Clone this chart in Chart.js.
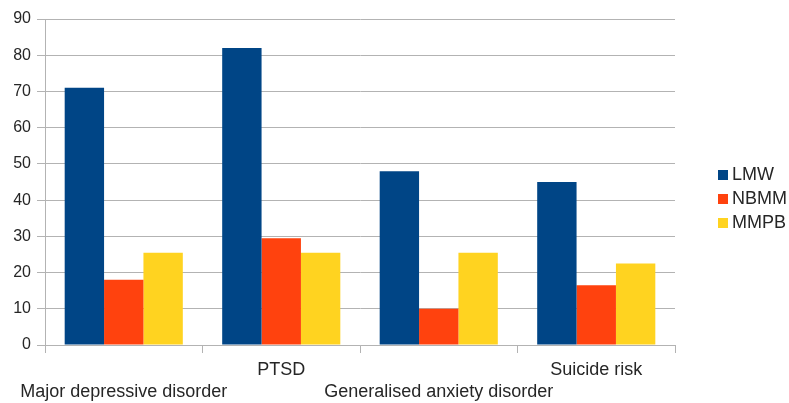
<!DOCTYPE html>
<html>
<head>
<meta charset="utf-8">
<script src="https://cdn.jsdelivr.net/npm/chart.js@4/dist/chart.umd.min.js"></script>
<style>
  html, body { margin: 0; padding: 0; background: #ffffff; }
  #wrap { position: relative; width: 789px; height: 403px; }
</style>
</head>
<body>
<div id="wrap"><canvas id="c"></canvas></div>
<script>
// Categories and series
const categories = ['Major depressive disorder', 'PTSD', 'Generalised anxiety disorder', 'Suicide risk'];
const lmw  = [71, 82, 48, 45];
const nbmm = [18, 29.5, 10, 16.5];
const mmpb = [25.5, 25.5, 25.5, 22.5];
const seriesNames = ['LMW', 'NBMM', 'MMPB'];
const seriesColors = ['#004586', '#ff420e', '#ffd320'];
const yTicks = [0, 10, 20, 30, 40, 50, 60, 70, 80, 90];

const FONT = "'Liberation Sans', Arial, sans-serif";
const TEXT = '#262626';
const GRID = '#b3b3b3';

// Legend drawn at the right, squares + names
const sideLegend = {
  id: 'sideLegend',
  afterDraw(chart) {
    const ctx = chart.ctx;
    ctx.save();
    ctx.font = '18px ' + FONT;
    ctx.textBaseline = 'middle';
    ctx.textAlign = 'left';
    chart.data.datasets.forEach((ds, i) => {
      const y = 175 + i * 24;
      ctx.fillStyle = ds.backgroundColor;
      ctx.fillRect(718, y - 5, 10, 10);
      ctx.fillStyle = TEXT;
      ctx.fillText(ds.label, 732, y);
    });
    ctx.restore();
  }
};

new Chart(document.getElementById('c'), {
  type: 'bar',
  data: {
    labels: categories,
    datasets: [
      { label: seriesNames[0], data: lmw,  backgroundColor: seriesColors[0] },
      { label: seriesNames[1], data: nbmm, backgroundColor: seriesColors[1] },
      { label: seriesNames[2], data: mmpb, backgroundColor: seriesColors[2] }
    ]
  },
  options: {
    responsive: true,
    maintainAspectRatio: false,
    animation: false,
    layout: { padding: { top: 19, right: 114, left: 0, bottom: 0 } },
    datasets: { bar: { barPercentage: 1.0, categoryPercentage: 0.75 } },
    plugins: {
      legend: { display: false },
      tooltip: { enabled: false }
    },
    scales: {
      x: {
        type: 'category',
        offset: true,
        grid: {
          offset: true,
          drawOnChartArea: false,
          drawTicks: true,
          tickLength: 8,
          color: GRID
        },
        border: { color: GRID },
        ticks: {
          autoSkip: false,
          maxRotation: 0,
          minRotation: 0,
          padding: 6,
          color: TEXT,
          font: { family: FONT, size: 18, lineHeight: 1.22 },
          // alternate rows so long names don't collide
          callback: function (value, index) {
            const name = this.getLabelForValue(value);
            return index % 2 === 0 ? ['', name] : [name];
          }
        },
        afterFit(scale) { scale.height = 58; }
      },
      y: {
        min: 0,
        max: 90,
        afterBuildTicks(scale) { scale.ticks = yTicks.map(v => ({ value: v })); },
        grid: {
          color: GRID,
          drawTicks: true,
          tickLength: 8
        },
        border: { color: GRID },
        ticks: {
          padding: 6,
          color: TEXT,
          font: { family: FONT, size: 16 }
        },
        afterFit(scale) { scale.width = 45; }
      }
    }
  },
  plugins: [sideLegend]
});
</script>
</body>
</html>
